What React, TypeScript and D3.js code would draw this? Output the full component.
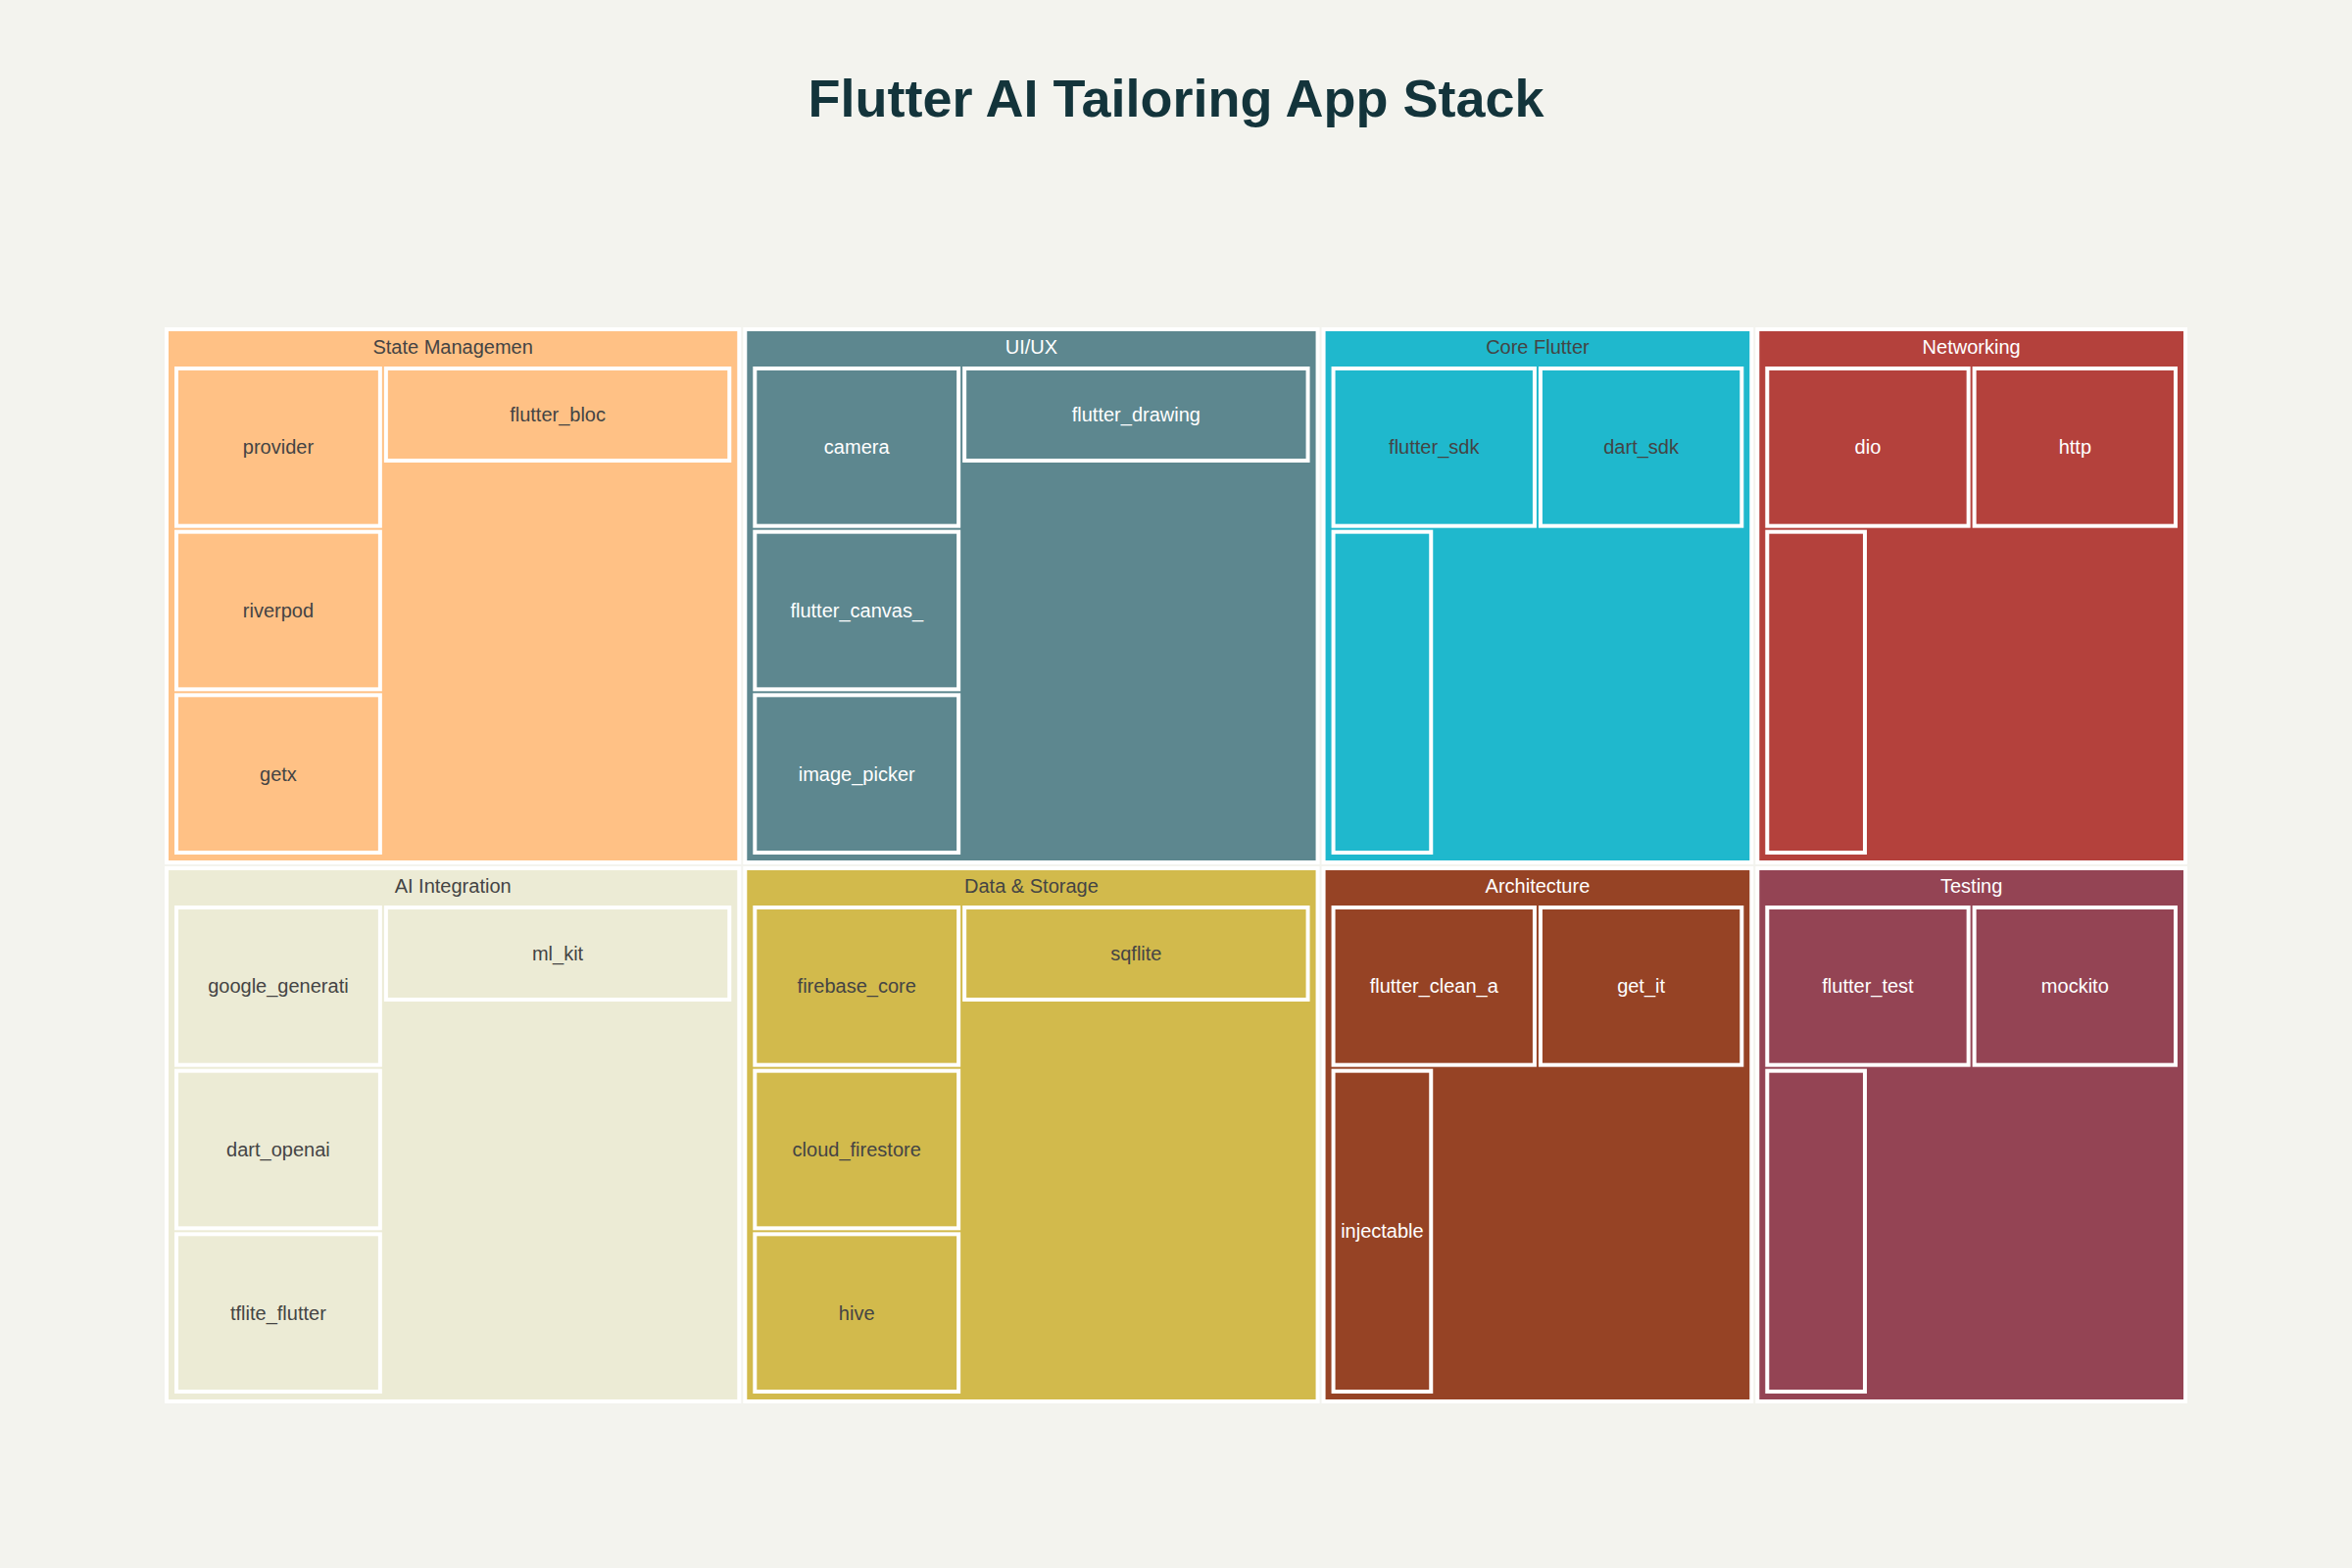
import { useEffect, useRef } from "react";
import * as d3 from "d3";

const categories = [
  "State Management",
  "AI Integration",
  "UI/UX",
  "Data & Storage",
  "Core Flutter",
  "Networking",
  "Architecture",
  "Testing",
];

// own value of each category (plotly "remainder" branch values)
const categoryValues = [4, 4, 4, 4, 3, 3, 3, 3];

const packages = [
  ["provider", "riverpod", "getx", "flutter_bloc"],
  ["google_generative_ai", "dart_openai", "tflite_flutter", "ml_kit"],
  ["camera", "flutter_canvas_kit", "image_picker", "flutter_drawing"],
  ["firebase_core", "cloud_firestore", "hive", "sqflite"],
  ["flutter_sdk", "dart_sdk", "flutter_localizations"],
  ["dio", "http", "connectivity_plus"],
  ["flutter_clean_architecture", "get_it", "injectable"],
  ["flutter_test", "mockito", "integration_test"],
];

const packageValues = [
  [1, 1, 1, 1],
  [1, 1, 1, 1],
  [1, 1, 1, 1],
  [1, 1, 1, 1],
  [1, 1, 1],
  [1, 1, 1],
  [1, 1, 1],
  [1, 1, 1],
];

const colors = [
  "#FFC185",
  "#ECEBD5",
  "#5D878F",
  "#D2BA4C",
  "#1FB8CD",
  "#B4413C",
  "#964325",
  "#944454",
];

const W = 2400;
const H = 1600;
const FONT = "'Liberation Sans', Arial, sans-serif";

function textColor(bg) {
  const c = d3.rgb(bg);
  const brightness = (c.r * 299 + c.g * 587 + c.b * 114) / 1000;
  return brightness >= 128 ? "#444444" : "#ffffff";
}

export default function App() {
  const svgRef = useRef(null);

  useEffect(() => {
    const svg = d3.select(svgRef.current);
    svg.selectAll("*").remove();

    svg.append("rect").attr("width", W).attr("height", H).attr("fill", "#F3F3EE");

    svg.append("text")
      .attr("x", W / 2)
      .attr("y", 119)
      .attr("text-anchor", "middle")
      .attr("font-family", FONT)
      .attr("font-weight", "bold")
      .attr("font-size", 54)
      .attr("fill", "#13343B")
      .text("Flutter AI Tailoring App Stack");

    const data = {
      name: "",
      children: categories.map((c, i) => ({
        name: c,
        value: categoryValues[i],
        color: colors[i],
        children: packages[i].map((p, j) => ({
          name: p,
          value: packageValues[i][j],
          color: colors[i],
        })),
      })),
    };

    const root = d3.hierarchy(data).sum(d => (d.children ? d.value : d.value) || 0);

    const pad = (v) => (n) => (n.depth === 0 ? 0 : v);
    d3.treemap()
      .tile(d3.treemapSquarify.ratio(1))
      .size([2060, 1094])
      .paddingInner(6)
      .paddingTop(pad(40))
      .paddingLeft(pad(10))
      .paddingRight(pad(10))
      .paddingBottom(pad(10))(root);

    const g = svg.append("g").attr("transform", "translate(170,336)");

    const nodes = root.descendants().filter(d => d.depth > 0);

    g.selectAll("rect.node")
      .data(nodes)
      .join("rect")
      .attr("class", "node")
      .attr("x", d => d.x0)
      .attr("y", d => d.y0)
      .attr("width", d => d.x1 - d.x0)
      .attr("height", d => d.y1 - d.y0)
      .attr("fill", d => d.data.color)
      .attr("stroke", "#ffffff")
      .attr("stroke-width", 4);

    // category headers
    g.selectAll("text.header")
      .data(root.children)
      .join("text")
      .attr("class", "header")
      .attr("x", d => (d.x0 + d.x1) / 2)
      .attr("y", d => d.y0 + 25)
      .attr("text-anchor", "middle")
      .attr("font-family", FONT)
      .attr("font-size", 20)
      .attr("fill", d => textColor(d.data.color))
      .text(d => d.data.name.slice(0, 15));

    // leaf labels, hidden when they do not fit
    g.selectAll("text.leaf")
      .data(root.leaves())
      .join("text")
      .attr("class", "leaf")
      .attr("x", d => (d.x0 + d.x1) / 2)
      .attr("y", d => (d.y0 + d.y1) / 2)
      .attr("text-anchor", "middle")
      .attr("dominant-baseline", "central")
      .attr("font-family", FONT)
      .attr("font-size", 20)
      .attr("fill", d => textColor(d.data.color))
      .text(d => d.data.name.slice(0, 15))
      .each(function (d) {
        const len = this.getComputedTextLength();
        if (len > d.x1 - d.x0 - 10) d3.select(this).remove();
      });
  }, []);

  return (
    <svg
      ref={svgRef}
      width={W}
      height={H}
      style={{ position: "absolute", left: 0, top: 0 }}
    ></svg>
  );
}
